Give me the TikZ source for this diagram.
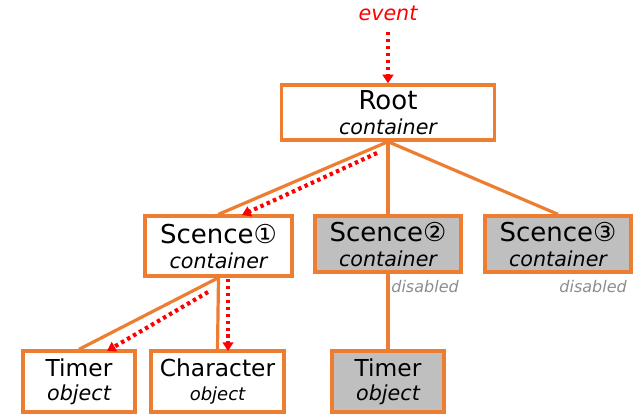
\documentclass[tikz,border=0pt]{standalone}
\usepackage{fontspec}
\setmainfont{DejaVu Sans}
\usetikzlibrary{arrows.meta}
\definecolor{org}{HTML}{ED7D31}
\definecolor{disfill}{HTML}{BFBFBF}
\definecolor{distxt}{HTML}{8C8C8C}
\begin{document}
\begin{tikzpicture}[x=0.75pt,y=-0.75pt,
  box/.style={draw=org, line width=2.5pt, inner sep=0pt, align=center, fill=white},
  off/.style={fill=disfill},
  link/.style={draw=org, line width=2.4pt},
  flow/.style={draw=red, line width=3.1pt, dash pattern=on 2.6pt off 2.6pt,
    -{Triangle[length=6.5pt,width=8pt]}},
  big/.style={font=\fontsize{19.5}{18.75}\selectfont},
  mid/.style={font=\fontsize{17.5}{18}\selectfont},
  disl/.style={font=\fontsize{12}{13}\selectfont\itshape, text=distxt, inner sep=0pt}
]
\useasboundingbox (0,0) rectangle (640,419);

\node[red, font=\fontsize{15.5}{16}\selectfont\itshape, inner sep=0pt] (ev) at (388,13) {event};

\node[box, big, minimum width=213*0.75pt, minimum height=55*0.75pt] (root) at (388,112.5)
  {Root\\\fontsize{15.5}{18.75}\selectfont\itshape container};

\node[box, big, minimum width=147*0.75pt, minimum height=60*0.75pt] (s1) at (218.5,246)
  {Scence①\\\fontsize{15.5}{18.75}\selectfont\itshape container};
\node[box, off, big, minimum width=146*0.75pt, minimum height=56*0.75pt] (s2) at (388,244)
  {Scence②\\\fontsize{15.5}{18.75}\selectfont\itshape container};
\node[box, off, big, minimum width=146*0.75pt, minimum height=56*0.75pt] (s3) at (558,244)
  {Scence③\\\fontsize{15.5}{18.75}\selectfont\itshape container};

\node[box, mid, minimum width=112*0.75pt, minimum height=61*0.75pt] (t1) at (79,381.5)
  {Timer\\\fontsize{15.5}{18}\selectfont\itshape object};
\node[box, mid, minimum width=133*0.75pt, minimum height=61*0.75pt] (ch) at (217.5,381.5)
  {Character\\\fontsize{13.5}{18}\selectfont\itshape object};
\node[box, off, mid, minimum width=112*0.75pt, minimum height=61*0.75pt] (t2) at (388,381.5)
  {Timer\\\fontsize{15.5}{18}\selectfont\itshape object};

\node[disl, anchor=east] (d2) at (459,287) {disabled};
\node[disl, anchor=east] (d3) at (627,287) {disabled};

% tree connectors
\draw[link] (root.south) -- (s1.north);
\draw[link] (root.south) -- (s2.north);
\draw[link] (root.south) -- (s3.north);
\draw[link] (s1.south) -- (t1.north);
\draw[link] (s1.south) -- (ch.north);
\draw[link] (s2.south) -- (t2.north);

% event flow
\coordinate (e0) at (388,32);
\coordinate (r0) at (377,153);
\coordinate (r1) at (242,215);
\coordinate (a0) at (208,292);
\coordinate (a1) at (107,351);
\coordinate (b0) at (228,279);
\coordinate (b1) at (228,351);
\draw[flow] (e0) -- (root.north);
\draw[flow] (r0) -- (r1);
\draw[flow] (a0) -- (a1);
\draw[flow] (b0) -- (b1);
\end{tikzpicture}
\end{document}
